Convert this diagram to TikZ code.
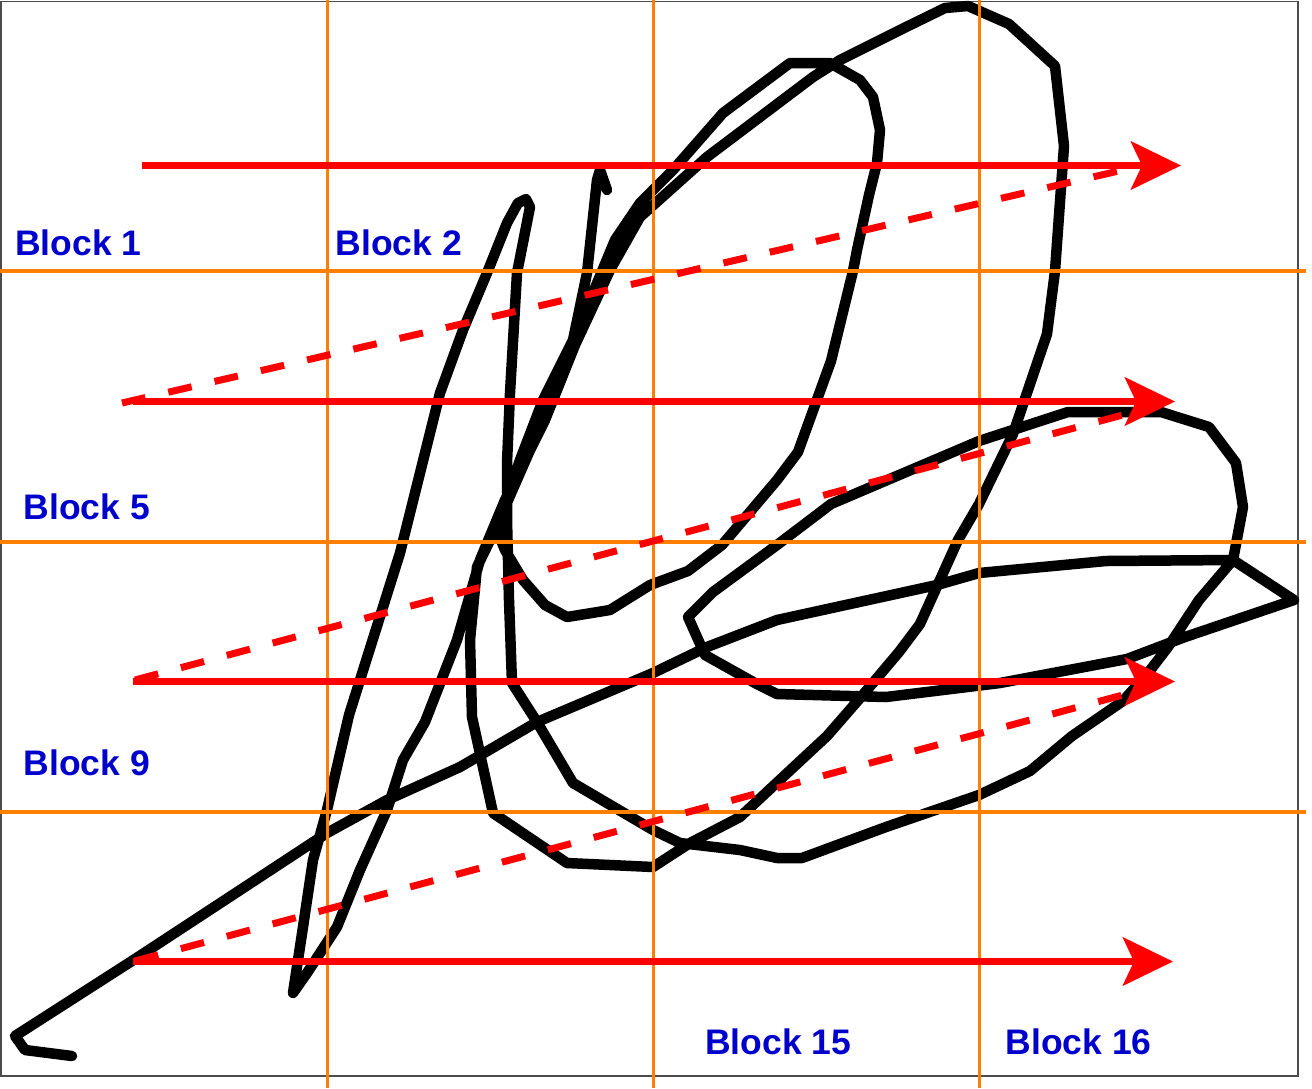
\documentclass[tikz,border=0pt]{standalone}
\usepackage{fontspec}
\setmainfont{Liberation Sans}
\usetikzlibrary{arrows.meta}
\definecolor{gridorange}{RGB}{255,128,0}
\definecolor{lblue}{RGB}{0,0,204}
\begin{document}
\begin{tikzpicture}[x=1pt,y=-1pt,
  scrib/.style={line width=10.5pt, line join=round, line cap=round, black},
  gridline/.style={line width=3.2pt, gridorange},
  solidarrow/.style={line width=7.5pt, red, -{Stealth[length=50pt,width=48pt,inset=11pt]}},
  dasharrow/.style={line width=7pt, red, dash pattern=on 24pt off 23.5pt},
  blocklabel/.style={font=\bfseries\fontsize{35.5}{40}\selectfont, text=lblue, anchor=base west, inner sep=0pt}]
\useasboundingbox[fill=white] (0,0) rectangle (1312,1088);
% frame
\draw[black!70, line width=1.8pt] (1,1.5) rectangle (1298,1076);
% scribble
\draw[scrib] (72,1056) -- (25,1050) -- (15,1036) -- (135,959) -- (260,877) -- (327,833) -- (387,800) -- (460,767) -- (537,722) -- (653,673) -- (707,647) -- (777,620) -- (937,585) -- (979,573) -- (1106,561) -- (1233,560) -- (1294,600) -- (1185,637) -- (1127,659) -- (1000,683) -- (886,697) -- (777,694) -- (755,683) -- (705,655) -- (688,617) -- (713,592) -- (777,545) -- (831,504) -- (979,441) -- (1068,412) -- (1161,412) -- (1209,427) -- (1236,463) -- (1243,507) -- (1233,560) -- (1199,600) -- (1168,647) -- (1148,673) -- (1123,701) -- (1072,736) -- (1030,771) -- (979,795) -- (886,827) -- (802,858) -- (777,858) -- (740,850) -- (680,843) -- (653,830) -- (573,783) -- (537,722) -- (512,683) -- (509,600) -- (507,520) -- (507,463) -- (510,393) -- (517,273) -- (530,207) -- (526,199) -- (518,203) -- (507,223) -- (487,273) -- (463,330) -- (440,393) -- (400,553) -- (349,715) -- (327,810) -- (313,860) -- (303,927) -- (293,993) -- (307,973) -- (337,927) -- (360,870) -- (387,810) -- (403,760) -- (425,722) -- (457,640) -- (480,560) -- (505,500) -- (545,420) -- (575,345) -- (610,270) -- (640,217) -- (707,157) -- (813,77) -- (840,60) -- (900,30) -- (945,8) -- (968,6) -- (1009,24) -- (1055,66) -- (1064,146) -- (1055,271) -- (1047,334) -- (1013,434) -- (979,504) -- (958,540) -- (920,624) -- (899,652) -- (861,697) -- (827,736) -- (740,817) -- (690,843) -- (653,867) -- (567,863) -- (493,813) -- (472,717) -- (470,640) -- (477,567) -- (495,530) -- (530,450) -- (560,380) -- (590,300) -- (615,240) -- (640,203) -- (673,170) -- (723,113) -- (790,63) -- (830,63) -- (860,80) -- (873,97) -- (880,130) -- (877,163) -- (869,195) -- (857,250) -- (853,271) -- (831,361) -- (798,452) -- (777,480) -- (722,545) -- (688,571) -- (650,585) -- (610,610) -- (567,617) -- (545,605) -- (523,580) -- (505,550) -- (497,530) -- (520,460) -- (543,400) -- (573,340) -- (587,273) -- (597,180) -- (600,170) -- (607,190);
% grid
\foreach \gx in {327.5,653.5,979.5} \draw[gridline] (\gx,0) -- (\gx,1088);
\foreach \gy in {271,542,812} \draw[gridline] (0,\gy) -- (1306,\gy);
% labels
\node[blocklabel] (b1) at (15,255.5) {Block 1};
\node[blocklabel] (b2) at (335.5,255.5) {Block 2};
\node[blocklabel] (b5) at (23.5,519) {Block 5};
\node[blocklabel] (b9) at (23.5,775) {Block 9};
\node[blocklabel] (b15) at (705,1054.5) {Block 15};
\node[blocklabel] (b16) at (1005.5,1054.5) {Block 16};
% arrow endpoints
\coordinate (s1) at (142,165.5);  \coordinate (e1) at (1181,165.5);
\coordinate (s2) at (133,401.5);  \coordinate (e2) at (1175,401.5);
\coordinate (s3) at (133,681.5);  \coordinate (e3) at (1175,681.5);
\coordinate (s4) at (133,961.5);  \coordinate (e4) at (1173,961.5);
\coordinate (d1s) at (122,403);   \coordinate (d1e) at (1140,166);
\coordinate (d2s) at (135,680);   \coordinate (d2e) at (1145,409);
\coordinate (d3s) at (135,961);   \coordinate (d3e) at (1145,689);
% dashed diagonals
\draw[dasharrow] (d1s) -- (d1e);
\draw[dasharrow] (d2s) -- (d2e);
\draw[dasharrow] (d3s) -- (d3e);
% solid arrows
\draw[solidarrow] (s1) -- (e1);
\draw[solidarrow] (s2) -- (e2);
\draw[solidarrow] (s3) -- (e3);
\draw[solidarrow] (s4) -- (e4);
\end{tikzpicture}
\end{document}
